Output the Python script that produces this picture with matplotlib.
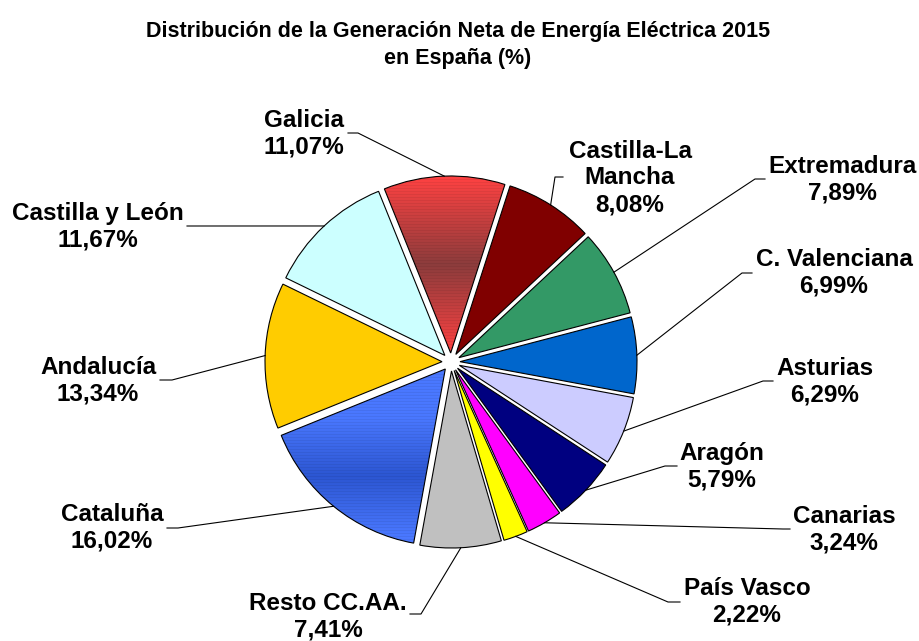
import numpy as np
import matplotlib.pyplot as plt
from matplotlib.colors import to_rgb

plt.rcParams['font.family'] = ['Liberation Sans', 'DejaVu Sans']

# Datos: generación neta por comunidad autónoma 2015 (%)
regiones = ['Galicia', 'Castilla-La\nMancha', 'Extremadura', 'C. Valenciana', 'Asturias',
            'Aragón', 'Canarias', 'País Vasco', 'Resto CC.AA.', 'Cataluña', 'Andalucía',
            'Castilla y León']
porcentajes = [11.07, 8.08, 7.89, 6.99, 6.29, 5.79, 3.24, 2.22, 7.41, 16.02, 13.34, 11.67]
colores = ['#FF4040', '#800000', '#339966', '#0066CC', '#CCCCFF', '#000080', '#FF00FF',
           '#FFFF00', '#C0C0C0', '#3366FF', '#FFCC00', '#CCFFFF']
# degradados: color claro, color oscuro, posición del oscuro, ancho
degradados = {0: ('#FF4242', '#8C3C3C', 0.5, 0.5), 9: ('#4A78FF', '#2C56D2', 0.62, 0.34)}

W, H = 919, 641
# posiciones de las etiquetas (centro x, centro y en píxeles desde arriba)
pos_texto = [(304, 134), (630, 178), (842, 180), (834, 273), (825, 382), (722, 467),
             (844, 530), (747, 602), (328, 617), (112, 528), (98, 381), (98, 227)]
# codo y final de las líneas guía
codos = [(358, 133), (555, 177), (755, 179), (742, 273), (763, 381), (665, 466),
         (783, 529), (668, 602), (421, 614), (178, 528), (172, 380), (198, 226)]
finales = [(348, 133), (563, 177), (765, 179), (752, 273), (773, 381), (677, 466),
           (790, 529), (680, 602), (410, 614), (167, 528), (160, 380), (187, 226)]

fig = plt.figure(figsize=(W / 100, H / 100), dpi=100)
ax = fig.add_axes([0, 0, 1, 1])

wedges, _ = ax.pie(porcentajes, colors=colores, startangle=112, counterclock=False,
                   radius=177, center=(451, H - 362), explode=[9] * len(porcentajes),
                   wedgeprops=dict(edgecolor='black', linewidth=0.8))

# relleno con degradado para Galicia y Cataluña
for i, (claro, oscuro, medio, ancho) in degradados.items():
    w = wedges[i]
    ext = w.get_path().get_extents()
    n = int(ext.height) + 1
    t = np.linspace(0, 1, n)
    f = np.clip(np.abs(t - medio) / ancho, 0, 1)[:, None]
    c1, c2 = np.array(to_rgb(claro)), np.array(to_rgb(oscuro))
    img = c2 + (c1 - c2) * f
    rayas = np.where(np.arange(n) % 3 == 0, 0.94, 1.0)[:, None]
    img = np.clip(img * rayas, 0, 1)[:, None, :]
    im = ax.imshow(img, extent=[ext.x0, ext.x1, ext.y0, ext.y1], origin='upper',
                   aspect='auto', zorder=0.5)
    im.set_clip_path(w)
    w.set_facecolor('none')

for i, w in enumerate(wedges):
    ang = np.deg2rad((w.theta1 + w.theta2) / 2)
    x0 = w.center[0] + w.r * np.cos(ang)
    y0 = w.center[1] + w.r * np.sin(ang)
    xs = [x0, codos[i][0], finales[i][0]]
    ys = [y0, H - codos[i][1], H - finales[i][1]]
    ax.plot(xs, ys, color='black', lw=0.8, zorder=3)
    etiqueta = regiones[i] + '\n' + f'{porcentajes[i]:.2f}%'.replace('.', ',')
    ax.text(pos_texto[i][0], H - pos_texto[i][1], etiqueta, ha='center', va='center',
            fontsize=17.5, fontweight='bold', linespacing=1.22)

ax.text(458, H - 45, 'Distribución de la Generación Neta de Energía Eléctrica 2015\nen España (%)',
        ha='center', va='center', fontsize=15.5, fontweight='bold', linespacing=1.4)

ax.set_xlim(0, W)
ax.set_ylim(0, H)
ax.axis('off')

fig.savefig('out.png', dpi=100)
